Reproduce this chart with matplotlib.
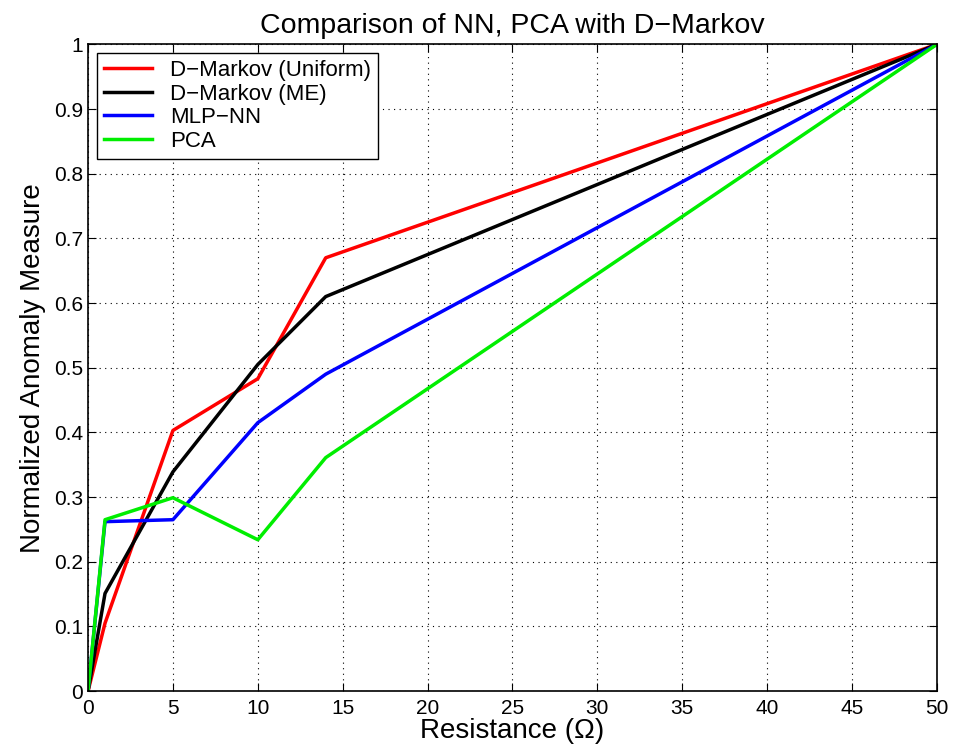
import numpy as np
import matplotlib
matplotlib.use('Agg')
import matplotlib.pyplot as plt

# Fault resistance (Ohm) and normalized anomaly measure of each method.
resistance = [0, 1, 5, 10, 14, 50]
dmarkov_uniform = [0.0, 0.105, 0.403, 0.483, 0.670, 1.0]
dmarkov_me = [0.0, 0.151, 0.339, 0.505, 0.610, 1.0]
mlp_nn = [0.0, 0.262, 0.265, 0.415, 0.490, 1.0]
pca = [0.0, 0.265, 0.299, 0.234, 0.361, 1.0]

plt.rcParams['font.family'] = ['Liberation Sans', 'DejaVu Sans']

fig = plt.figure(figsize=(9.57, 7.52), dpi=100)
ax = fig.add_axes([0.092, 0.081, 0.887, 0.860])

ax.plot(resistance, dmarkov_uniform, color='#ff0000', lw=2.5, label='D\u2212Markov (Uniform)')
ax.plot(resistance, dmarkov_me, color='#000000', lw=2.5, label='D\u2212Markov (ME)')
ax.plot(resistance, mlp_nn, color='#0000ff', lw=2.5, label='MLP\u2212NN')
ax.plot(resistance, pca, color='#00ee00', lw=2.5, label='PCA')

ax.set_xlim(0, 50)
ax.set_ylim(0, 1)
ax.set_xticks(np.arange(0, 51, 5))
ax.set_yticks(np.arange(0, 1.01, 0.1))
ax.set_yticklabels(['0'] + ['%.1f' % v for v in np.arange(0.1, 0.95, 0.1)] + ['1'])
ax.tick_params(direction='in', top=True, right=True, labelsize=15, length=6, width=0.8)
ax.tick_params(axis='x', pad=6)
ax.grid(True, linestyle=(0, (1, 4)), color='black', linewidth=0.8)
for s in ax.spines.values():
    s.set_linewidth(1.2)

ax.set_title('Comparison of NN, PCA with D\u2212Markov', fontsize=20.5, pad=8)
ax.set_xlabel('Resistance (\u03a9)', fontsize=20, labelpad=0)
ax.set_ylabel('Normalized Anomaly Measure', fontsize=20, labelpad=6)

leg = ax.legend(loc='upper left', fontsize=16, fancybox=False, framealpha=1,
                edgecolor='black', borderaxespad=0.4, handlelength=2.2,
                labelspacing=0.12, borderpad=0.3)
leg.get_frame().set_linewidth(1.0)

fig.savefig('out.png', dpi=100)
